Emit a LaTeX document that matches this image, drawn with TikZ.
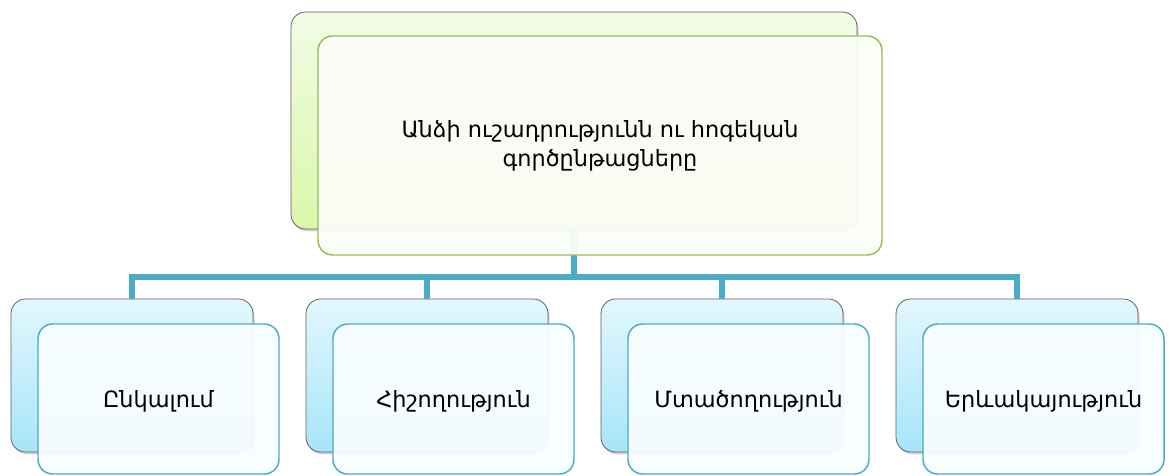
\documentclass[tikz,border=0pt]{standalone}
\usepackage{fontspec}
\setmainfont{DejaVu Sans}
\usetikzlibrary{positioning,shadows}

\definecolor{linkblue}{RGB}{75,172,198}
\definecolor{leafgreen}{RGB}{155,187,89}

\begin{document}
\begin{tikzpicture}[
		x=0.75pt, y=0.75pt,
		node distance=221.25pt,
		back box/.style={rectangle, rounded corners=11pt, inner sep=0pt, draw=gray!75!black, line width=0.6pt,
			drop shadow={shadow xshift=1.2pt, shadow yshift=-1.8pt, opacity=0.35}},
		back blue/.style={back box, minimum width=181.5pt, minimum height=114.75pt, top color={rgb,255:red,227;green,247;blue,253}, bottom color={rgb,255:red,166;green,229;blue,250}},
		back green/.style={back box, minimum width=424.5pt, minimum height=162.75pt, top color={rgb,255:red,242;green,252;blue,228}, bottom color={rgb,255:red,217;green,247;blue,170}},
		front box/.style={rectangle, rounded corners=11pt, inner sep=0pt, line width=1.1pt, fill opacity=0.95, text opacity=1, font=\fontsize{16.8}{22}\selectfont},
		front blue/.style={front box, draw=linkblue, fill={rgb,255:red,248;green,253;blue,255}, minimum width=180.75pt, minimum height=112.5pt, text height=16pt, text depth=3pt},
		front green/.style={front box, draw=leafgreen, fill={rgb,255:red,251;green,253;blue,247}, minimum width=423pt, minimum height=164.25pt, align=center},
		link/.style={draw=linkblue, line width=4.1pt}]

	\useasboundingbox (0,0) rectangle (1170,475);

	% top
	\node[back green] (tb) at (574,354.5) {};

	% bottom row
	\node[back blue] (bk1) at (132,99.5) {};
	\node[back blue] (bk2) [right of=bk1] {};
	\node[back blue] (bk3) [right of=bk2] {};
	\node[back blue] (bk4) [right of=bk3] {};

	\coordinate (hub) at (574,198);
	\path[link]
		(tb.south) -- (hub)
		(hub) -| (bk1.north)
		(hub) -| (bk2.north)
		(hub) -| (bk3.north)
		(hub) -| (bk4.north)
	;

	\node[front green] (tf) at (600,329.5) {Անձի ուշադրությունն ու հոգեկան\\գործընթացները};

	\node[front blue] (fr1) at (158.5,76) {Ընկալում};
	\node[front blue] (fr2) [right of=fr1] {Հիշողություն};
	\node[front blue] (fr3) [right of=fr2] {Մտածողություն};
	\node[front blue] (fr4) [right of=fr3] {Երևակայություն};
\end{tikzpicture}
\end{document}
